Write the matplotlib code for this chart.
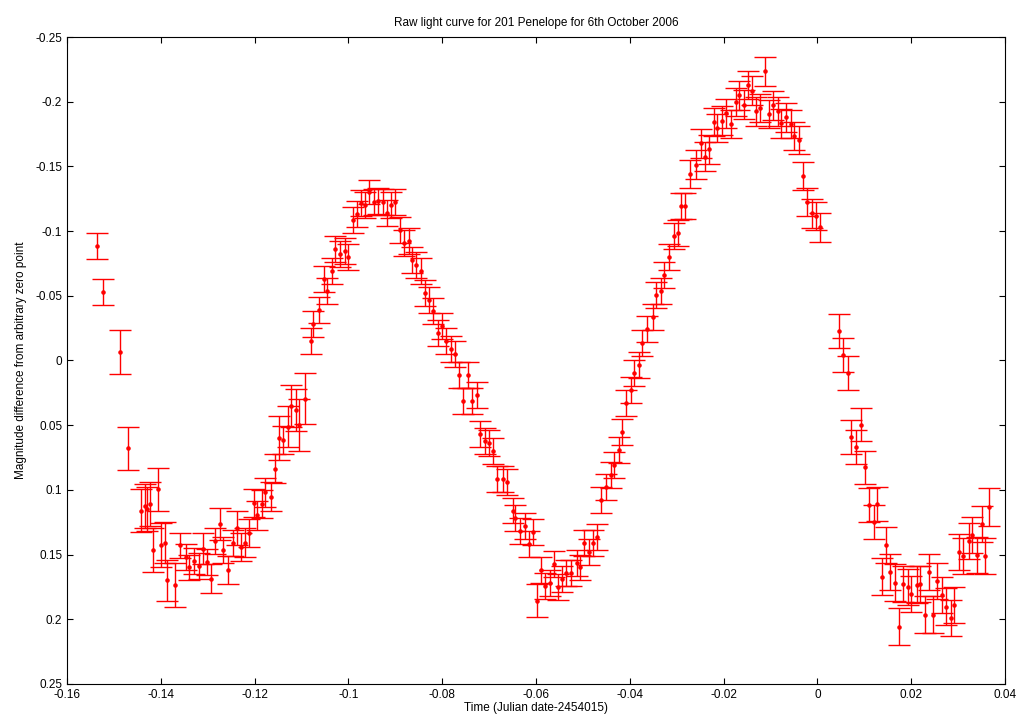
import matplotlib
matplotlib.use("Agg")
import matplotlib.pyplot as plt

# time offsets (JD - 2454015), magnitudes and their errors
time = [
    -0.1535, -0.1523, -0.1488, -0.1470, -0.1443, -0.1434, -0.1429, -0.1422, -0.1417, -0.1407,
    -0.1399, -0.1392, -0.1387, -0.1369, -0.1358, -0.1346, -0.1339, -0.1329, -0.1319, -0.1311,
    -0.1302, -0.1294, -0.1285, -0.1274, -0.1267, -0.1257, -0.1247, -0.1238, -0.1228, -0.1220,
    -0.1211, -0.1201, -0.1194, -0.1184, -0.1177, -0.1166, -0.1156, -0.1149, -0.1139, -0.1129,
    -0.1122, -0.1112, -0.1105, -0.1093,
    -0.1080, -0.1075, -0.1062, -0.1053, -0.1046, -0.1036, -0.1028, -0.1018, -0.1008, -0.1001,
    -0.0990, -0.0982, -0.0973, -0.0964, -0.0955, -0.0945, -0.0937, -0.0927, -0.0918, -0.0910,
    -0.0900, -0.0890, -0.0881, -0.0871, -0.0864, -0.0856, -0.0845, -0.0837, -0.0828, -0.0820,
    -0.0809, -0.0800, -0.0792, -0.0782, -0.0772, -0.0765, -0.0755, -0.0745, -0.0736, -0.0726,
    -0.0719, -0.0709, -0.0700, -0.0691, -0.0683, -0.0671, -0.0661,
    -0.0650, -0.0644, -0.0634, -0.0624, -0.0614, -0.0607, -0.0597, -0.0590, -0.0580, -0.0570,
    -0.0562, -0.0552, -0.0545, -0.0535, -0.0525, -0.0513, -0.0506, -0.0498, -0.0488, -0.0479,
    -0.0469, -0.0462, -0.0451, -0.0441, -0.0434, -0.0424, -0.0417, -0.0407, -0.0397, -0.0390,
    -0.0380,
    -0.0373, -0.0363, -0.0351, -0.0344, -0.0334, -0.0326, -0.0316, -0.0305, -0.0297, -0.0290,
    -0.0282, -0.0272, -0.0259, -0.0249, -0.0239, -0.0231, -0.0221, -0.0213, -0.0203, -0.0195,
    -0.0185, -0.0174, -0.0168, -0.0157, -0.0147, -0.0140, -0.0130, -0.0122, -0.0112, -0.0103,
    -0.0094, -0.0084, -0.0077, -0.0067, -0.0057, -0.0049, -0.0039, -0.0031, -0.0022, -0.0012,
    -0.0002, 0.0006,
    0.0047, 0.0055, 0.0066, 0.0072, 0.0082, 0.0092, 0.0101, 0.0111, 0.0121, 0.0128,
    0.0138, 0.0146, 0.0155, 0.0166, 0.0173, 0.0183, 0.0193, 0.0200, 0.0212, 0.0219,
    0.0229, 0.0239, 0.0246, 0.0256, 0.0265, 0.0274, 0.0284, 0.0291, 0.0301, 0.0311,
    0.0323, 0.0330, 0.0340, 0.0350, 0.0357, 0.0367,
]

mag = [
    -0.0885, -0.0530, -0.0066, 0.0680, 0.1160, 0.1124, 0.1150, 0.1110, 0.1464, 0.0995,
    0.1430, 0.1408, 0.1700, 0.1737, 0.1430, 0.1520, 0.1600, 0.1550, 0.1590, 0.1454,
    0.1560, 0.1686, 0.1397, 0.1264, 0.1464, 0.1619, 0.1413, 0.1294, 0.1443, 0.1408,
    0.1335, 0.1100, 0.1197, 0.1110, 0.1020, 0.1053, 0.0836, 0.0599, 0.0614, 0.0512,
    0.0352, 0.0383, 0.0496, 0.0295,
    -0.0148, -0.0282, -0.0390, -0.0628, -0.0535, -0.0689, -0.0860, -0.0823, -0.0849, -0.0802,
    -0.1086, -0.1132, -0.1220, -0.1199, -0.1302, -0.1225, -0.1230, -0.1225, -0.1137, -0.1204,
    -0.1225, -0.1009, -0.0906, -0.0921, -0.0777, -0.0736, -0.0689, -0.0524, -0.0468, -0.0380,
    -0.0210, -0.0267, -0.0153, -0.0087, -0.0050, 0.0115, 0.0310, 0.0115, 0.0310, 0.0269,
    0.0568, 0.0625, 0.0640, 0.0697, 0.0918, 0.0918, 0.0939,
    0.1160, 0.1217, 0.1315, 0.1280, 0.1420, 0.1325, 0.1856, 0.1619, 0.1743, 0.1722,
    0.1573, 0.1748, 0.1691, 0.1645, 0.1645, 0.1563, 0.1600, 0.1408, 0.1480, 0.1408,
    0.1362, 0.1078, 0.0975, 0.0887, 0.0805, 0.0692, 0.0552, 0.0331, 0.0228, 0.0100,
    0.0032,
    -0.0137, -0.0246, -0.0339, -0.0504, -0.0540, -0.0659, -0.0798, -0.0962, -0.0988, -0.1194,
    -0.1194, -0.1441, -0.1513, -0.1678, -0.1575, -0.1632, -0.1843, -0.1797, -0.1853, -0.1910,
    -0.1828, -0.1998, -0.2049, -0.1977, -0.2131, -0.2085, -0.1926, -0.1951, -0.2235, -0.1905,
    -0.1972, -0.1926, -0.1833, -0.1879, -0.1828, -0.1735, -0.1704, -0.1426, -0.1225, -0.1137,
    -0.1117, -0.1029,
    -0.0227, -0.0042, 0.0097, 0.0594, 0.0671, 0.0496, 0.0826, 0.1119, 0.1248, 0.1110,
    0.1670, 0.1428, 0.1634, 0.1717, 0.2057, 0.1727, 0.1753, 0.1805, 0.1732, 0.1727,
    0.1964, 0.1634, 0.1964, 0.1702, 0.1814, 0.1902, 0.1990, 0.1892, 0.1480, 0.1510,
    0.1397, 0.1351, 0.1505, 0.1264, 0.1510, 0.1135,
]

err = [
    0.010, 0.0098, 0.017, 0.0167, 0.0167, 0.017, 0.017, 0.017, 0.017, 0.0167,
    0.017, 0.016, 0.016, 0.017, 0.0098, 0.010, 0.010, 0.010, 0.010, 0.012,
    0.010, 0.011, 0.010, 0.012, 0.010, 0.011, 0.010, 0.013, 0.011, 0.011,
    0.011, 0.011, 0.011, 0.011, 0.011, 0.011, 0.011, 0.017, 0.011, 0.016,
    0.016, 0.016, 0.020, 0.020,
    0.010, 0.010, 0.010, 0.010, 0.010, 0.010, 0.010, 0.010, 0.010, 0.010,
    0.010, 0.010, 0.010, 0.010, 0.009, 0.010, 0.010, 0.010, 0.010, 0.010,
    0.010, 0.010, 0.010, 0.010, 0.010, 0.010, 0.010, 0.010, 0.010, 0.010,
    0.010, 0.010, 0.010, 0.010, 0.010, 0.010, 0.010, 0.010, 0.010, 0.010,
    0.010, 0.010, 0.010, 0.010, 0.010, 0.010, 0.010,
    0.010, 0.010, 0.010, 0.010, 0.010, 0.010, 0.0126, 0.010, 0.010, 0.010,
    0.010, 0.010, 0.010, 0.010, 0.010, 0.010, 0.010, 0.010, 0.010, 0.010,
    0.010, 0.010, 0.010, 0.010, 0.010, 0.010, 0.010, 0.010, 0.010, 0.010,
    0.010,
    0.010, 0.010, 0.010, 0.010, 0.010, 0.010, 0.010, 0.010, 0.010, 0.010,
    0.010, 0.011, 0.011, 0.011, 0.011, 0.011, 0.011, 0.011, 0.011, 0.011,
    0.011, 0.011, 0.011, 0.011, 0.011, 0.011, 0.011, 0.011, 0.011, 0.011,
    0.011, 0.011, 0.011, 0.011, 0.011, 0.011, 0.011, 0.011, 0.011, 0.011,
    0.011, 0.011,
    0.013, 0.013, 0.013, 0.013, 0.013, 0.013, 0.013, 0.013, 0.013, 0.013,
    0.014, 0.014, 0.014, 0.014, 0.0143, 0.014, 0.014, 0.014, 0.014, 0.014,
    0.014, 0.014, 0.014, 0.014, 0.014, 0.014, 0.014, 0.014, 0.014, 0.014,
    0.014, 0.014, 0.014, 0.014, 0.014, 0.0147,
]

x_ticks = [-0.16, -0.14, -0.12, -0.1, -0.08, -0.06, -0.04, -0.02, 0, 0.02, 0.04]
y_ticks = [-0.25, -0.2, -0.15, -0.1, -0.05, 0, 0.05, 0.1, 0.15, 0.2, 0.25]


def fmt(v):
    # matlab style labels: "0", "-0.1", "0.05"
    s = f"{v:.2f}".rstrip("0").rstrip(".")
    return "0" if s in ("-0", "0") else s


plt.rcParams["font.family"] = ["Liberation Sans", "DejaVu Sans"]
plt.rcParams["font.size"] = 8

fig = plt.figure(figsize=(10.26, 7.26), dpi=100)
ax = fig.add_axes([0.0653, 0.058, 0.9142, 0.891])

ax.errorbar(time, mag, yerr=err, fmt=".", color="red", ecolor="red",
            markersize=4.5, elinewidth=1.0, capsize=7.8, capthick=1.0)

ax.set_xlim(-0.16, 0.04)
ax.set_ylim(0.25, -0.25)
ax.set_xticks(x_ticks)
ax.set_xticklabels([fmt(v) for v in x_ticks])
ax.set_yticks(y_ticks)
ax.set_yticklabels([fmt(v) for v in y_ticks])
ax.tick_params(direction="in", top=True, right=True, length=4, width=0.8, labelsize=8.5)
for s in ax.spines.values():
    s.set_linewidth(0.8)

ax.set_title("Raw light curve for 201 Penelope for 6th October 2006", fontsize=8.5, pad=8)
ax.set_xlabel("Time (Julian date-2454015)", fontsize=8.5, labelpad=1)
ax.set_ylabel("Magnitude difference from arbitrary zero point", fontsize=8.5, labelpad=6)

fig.savefig("out.png", dpi=100)
